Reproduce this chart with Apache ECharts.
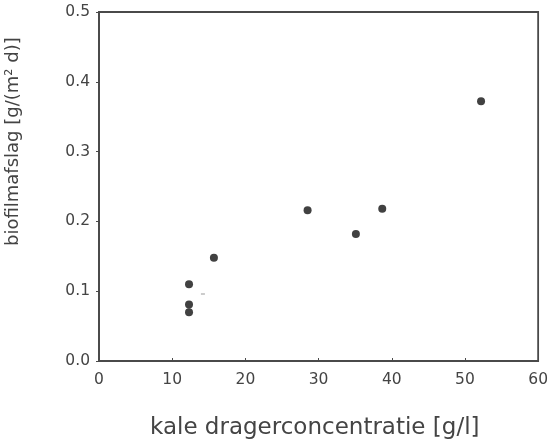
<!DOCTYPE html>
<html><head><meta charset="utf-8">
<script src="https://cdn.jsdelivr.net/npm/echarts@6/dist/echarts.min.js"></script>
<style>html,body{margin:0;padding:0;background:#fff}#c{width:551px;height:444px}</style>
</head><body><div id="c"></div>
<script>
const xValues = [12.3, 12.3, 12.3, 15.7, 28.5, 35.1, 38.7, 52.2];
const yValues = [0.070, 0.081, 0.110, 0.148, 0.216, 0.182, 0.218, 0.372];
const strayX = [14.2];
const strayY = [0.096];
const xTicks = [0, 10, 20, 30, 40, 50, 60];
const yTicks = [0.0, 0.1, 0.2, 0.3, 0.4, 0.5];
const xTitle = 'kale dragerconcentratie [g/l]';
const yTitle = 'biofilmafslag [g/(m² d)]';

const chart = echarts.init(document.getElementById('c'), null, {renderer: 'canvas'});
const font = 'DejaVu Sans';
chart.setOption({
  animation: false,
  backgroundColor: '#fff',
  grid: {left: 99, right: 12, top: 12, bottom: 83, show: true, borderColor: '#4a4a4a', borderWidth: 1.8, backgroundColor: 'transparent'},
  xAxis: {
    type: 'value', min: xTicks[0], max: xTicks[xTicks.length - 1], interval: 10,
    axisLine: {show: true, lineStyle: {color: '#4a4a4a', width: 1.8}},
    axisTick: {show: true, inside: true, length: 3, lineStyle: {color: '#4a4a4a'}},
    splitLine: {show: false},
    axisLabel: {color: '#444', fontFamily: font, fontSize: 15.5, margin: 11, formatter: v => String(v)}
  },
  yAxis: {
    type: 'value', min: yTicks[0], max: yTicks[yTicks.length - 1], interval: 0.1,
    axisLine: {show: true, lineStyle: {color: '#4a4a4a', width: 1.8}},
    axisTick: {show: true, inside: false, length: 3, lineStyle: {color: '#4a4a4a'}},
    splitLine: {show: false},
    axisLabel: {color: '#444', fontFamily: font, fontSize: 15.5, margin: 9, formatter: v => v.toFixed(1)}
  },
  graphic: [
    {type: 'text', x: 150, y: 417, style: {text: xTitle, fill: '#444', font: '23px "DejaVu Sans"'}},
    {type: 'text', x: 4, y: 246, rotation: Math.PI / 2, style: {text: yTitle, fill: '#444', font: '18px "DejaVu Sans"'}}
  ],
  series: [
    {type: 'scatter', data: xValues.map((x, i) => [x, yValues[i]]), symbol: 'circle', symbolSize: 8, itemStyle: {color: '#111'}},
    {type: 'scatter', data: strayX.map((x, i) => [x, strayY[i]]), symbol: 'rect', symbolSize: [4, 1.5], itemStyle: {color: '#aaa'}}
  ]
});
</script></body></html>
